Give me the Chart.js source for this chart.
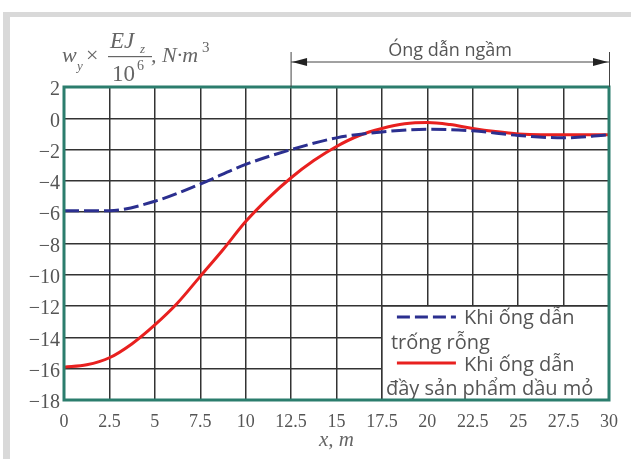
<!DOCTYPE html>
<html>
<head>
<meta charset="utf-8">
<script src="https://cdn.jsdelivr.net/npm/chart.js@4.4.0/dist/chart.umd.min.js"></script>
<style>
  html, body { margin: 0; padding: 0; background: #fff; }
  #wrap { position: relative; width: 631px; height: 459px; overflow: hidden; }
  .band { position: absolute; background: #d9d9d9; }
  canvas { position: absolute; left: 0; top: 0; }
</style>
</head>
<body>
<div id="wrap">
  <div class="band" style="left:3px; top:12px; width:628px; height:5px;"></div>
  <div class="band" style="left:3px; top:12px; width:7px; height:447px;"></div>
  <canvas id="c" width="631" height="459"></canvas>
</div>
<script>
// x positions along the pipe, m
const xEmpty = [0, 2.5, 5, 7.5, 10, 12.5, 15, 17.5, 20, 22.5, 25, 27.5, 30];
const yEmpty = [-5.9, -5.9, -5.3, -4.2, -2.95, -2.0, -1.25, -0.87, -0.7, -0.8, -1.1, -1.25, -1.05];

const xFull = [0, 1.25, 2.5, 3.75, 5, 6.25, 7.5, 8.75, 10, 11.25, 12.5, 13.75, 15, 16.25, 17.5, 18.75, 20, 21.25, 22.5, 23.75, 25, 26.25, 27.5, 28.75, 30];
const yFull = [-15.9, -15.75, -15.3, -14.4, -13.2, -11.8, -10.1, -8.4, -6.6, -5.1, -3.8, -2.7, -1.8, -1.1, -0.65, -0.35, -0.27, -0.4, -0.65, -0.85, -1.0, -1.05, -1.05, -1.05, -1.05];

const xTicks = [0, 2.5, 5, 7.5, 10, 12.5, 15, 17.5, 20, 22.5, 25, 27.5, 30];
const yTicks = [2, 0, -2, -4, -6, -8, -10, -12, -14, -16, -18];

const legendLabels = [['Khi ống dẫn', 'trống rỗng'], ['Khi ống dẫn', 'đầy sản phẩm dầu mỏ']];
const pipeLabel = 'Óng dẫn ngầm';

const txtColor = '#555';
const teal = '#2b7d6d';
const serif = '"Liberation Serif", "DejaVu Serif", serif';
const sans = '"Open Sans", "Noto Sans", sans-serif';

const toPts = (xs, ys) => xs.map((x, i) => ({ x: x, y: ys[i] }));

function arrowHead(ctx, x, y, dir) {
  ctx.beginPath();
  ctx.moveTo(x, y);
  ctx.lineTo(x - dir * 15, y - 4);
  ctx.lineTo(x - dir * 15, y + 4);
  ctx.closePath();
  ctx.fill();
}

const decor = {
  id: 'decor',
  afterDatasetsDraw(chart) {
    const ctx = chart.ctx;
    const a = chart.chartArea;
    const xs = chart.scales.x, ys = chart.scales.y;
    ctx.save();

    // legend box in the lower right cell block
    const lx = xs.getPixelForValue(17.5), ly = ys.getPixelForValue(-12);
    ctx.fillStyle = '#fff';
    ctx.fillRect(lx, ly, a.right - lx, a.bottom - ly);
    ctx.strokeStyle = '#333';
    ctx.lineWidth = 1.5;
    ctx.beginPath();
    ctx.moveTo(lx, a.bottom); ctx.lineTo(lx, ly); ctx.lineTo(a.right, ly);
    ctx.stroke();

    ctx.lineWidth = 3;
    ctx.strokeStyle = '#2b2f8f';
    ctx.setLineDash([13, 5]);
    ctx.beginPath(); ctx.moveTo(lx + 15, ly + 11); ctx.lineTo(lx + 74, ly + 11); ctx.stroke();
    ctx.setLineDash([]);
    ctx.strokeStyle = '#e8201f';
    ctx.beginPath(); ctx.moveTo(lx + 15, ly + 57); ctx.lineTo(lx + 74, ly + 57); ctx.stroke();

    ctx.fillStyle = txtColor;
    ctx.font = '20px ' + sans;
    ctx.textBaseline = 'middle';
    ctx.textAlign = 'left';
    ctx.fillText(legendLabels[0][0], lx + 82, ly + 12);
    ctx.fillText(legendLabels[0][1], lx + 9, ly + 37);
    ctx.fillText(legendLabels[1][0], lx + 82, ly + 59);
    ctx.fillText(legendLabels[1][1], lx + 4, ly + 83);

    // frame
    ctx.strokeStyle = teal;
    ctx.lineWidth = 3;
    ctx.strokeRect(a.left, a.top, a.right - a.left, a.bottom - a.top);

    // underground pipe span
    const p0 = xs.getPixelForValue(12.5), p1 = xs.getPixelForValue(30);
    const ay = a.top - 25;
    ctx.strokeStyle = '#444';
    ctx.lineWidth = 1;
    ctx.beginPath();
    ctx.moveTo(p0, a.top - 35); ctx.lineTo(p0, a.top);
    ctx.moveTo(p1 + 0.5, a.top - 35); ctx.lineTo(p1 + 0.5, a.top);
    ctx.moveTo(p0, ay); ctx.lineTo(p1, ay);
    ctx.stroke();
    ctx.fillStyle = '#222';
    arrowHead(ctx, p0 + 1, ay, -1);
    arrowHead(ctx, p1 - 1, ay, 1);
    ctx.fillStyle = txtColor;
    ctx.font = '18px ' + sans;
    ctx.textAlign = 'center';
    ctx.textBaseline = 'alphabetic';
    ctx.fillText(pipeLabel, (p0 + p1) / 2, ay - 6);

    // axis titles
    ctx.fillStyle = '#666';
    ctx.textAlign = 'left';
    const it = 'italic 22px ' + serif;
    const sm = 'italic 13px ' + serif;
    ctx.font = it; ctx.fillText('w', 62, 62);
    ctx.font = sm; ctx.fillText('y', 77, 70);
    ctx.font = '22px ' + serif; ctx.fillText('×', 86, 62);
    ctx.font = 'italic 23px ' + serif; ctx.fillText('EJ', 110, 48);
    ctx.font = sm; ctx.fillText('z', 140, 53);
    ctx.fillRect(108, 56, 44, 1.2);
    ctx.font = '23px ' + serif; ctx.fillText('10', 112, 81);
    ctx.font = '14px ' + serif; ctx.fillText('6', 137, 70);
    ctx.font = it; ctx.fillText(', N·m', 151, 62);
    ctx.font = '15px ' + serif; ctx.fillText('3', 202, 52);

    ctx.font = 'italic 21px ' + serif;
    ctx.textAlign = 'center';
    ctx.fillText('x, m', (a.left + a.right) / 2, 446);
    ctx.restore();
  }
};

new Chart(document.getElementById('c'), {
  type: 'line',
  data: {
    datasets: [
      {
        label: legendLabels[0].join(' '),
        data: toPts(xEmpty, yEmpty),
        borderColor: '#2b2f8f',
        borderWidth: 3,
        borderDash: [15, 5],
        pointRadius: 0,
        cubicInterpolationMode: 'monotone'
      },
      {
        label: legendLabels[1].join(' '),
        data: toPts(xFull, yFull),
        borderColor: '#e8201f',
        borderWidth: 3,
        pointRadius: 0,
        cubicInterpolationMode: 'monotone'
      }
    ]
  },
  options: {
    responsive: false,
    animation: false,
    layout: { padding: { top: 87, right: 22, left: 0, bottom: 0 } },
    plugins: { legend: { display: false }, tooltip: { enabled: false } },
    scales: {
      x: {
        type: 'linear', min: 0, max: 30,
        afterBuildTicks: s => { s.ticks = xTicks.map(v => ({ value: v })); },
        afterFit: s => { s.height = 59; },
        ticks: { color: txtColor, font: { family: serif, size: 18 }, padding: 11, maxRotation: 0,
                 callback: v => String(v) },
        grid: { color: '#333', lineWidth: 1.5, drawTicks: false },
        border: { display: false }
      },
      y: {
        type: 'linear', min: -18, max: 2,
        afterBuildTicks: s => { s.ticks = yTicks.map(v => ({ value: v })); },
        afterFit: s => { s.width = 64; },
        ticks: { color: txtColor, font: { family: serif, size: 20 }, padding: 4, labelOffset: 3,
                 callback: v => v < 0 ? '\u2212' + Math.abs(v) : String(v) },
        grid: { color: '#333', lineWidth: 1.5, drawTicks: false },
        border: { display: false }
      }
    }
  },
  plugins: [decor]
});
</script>
</body>
</html>
